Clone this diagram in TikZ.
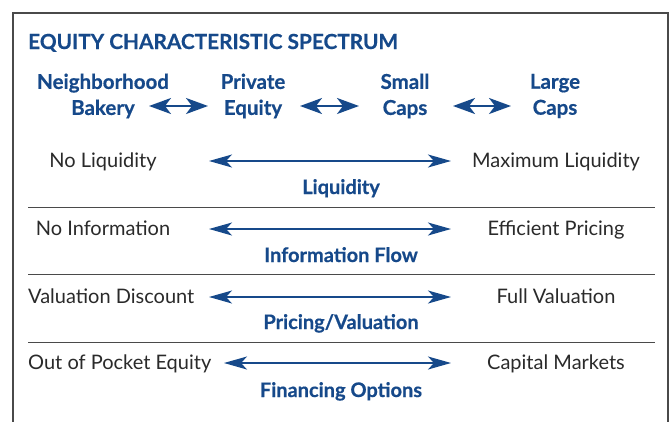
\documentclass[tikz,border=0pt]{standalone}
\usepackage{fontspec}
\setmainfont{Lato}
\newfontfamily\headfont[FakeBold=0.5]{Lato Bold}
\usetikzlibrary{arrows.meta}
\definecolor{navy}{HTML}{16498A}
\definecolor{bodygray}{HTML}{2A2A2A}
\definecolor{rulegray}{HTML}{4A4A4A}
\begin{document}
\begin{tikzpicture}[x=1pt,y=-1pt,
  heading/.style={font=\headfont\fontsize{20.8}{20.8}\selectfont,text=navy,anchor=base west,inner sep=0pt},
  category/.style={font=\headfont\fontsize{20.5}{26}\selectfont,text=navy,align=center,inner sep=0pt},
  endpoint/.style={font=\fontsize{20}{20}\selectfont,text=bodygray,anchor=base,inner sep=0pt},
  axislabel/.style={font=\headfont\fontsize{20}{20}\selectfont,text=navy,anchor=base,inner sep=0pt},
  shortarrow/.style={navy,line width=2pt,{Stealth[length=22pt,width=16pt,inset=6pt]}-{Stealth[length=22pt,width=16pt,inset=6pt]}},
  longarrow/.style={navy,line width=1.2pt,{Stealth[length=23pt,width=13pt,inset=6pt]}-{Stealth[length=23pt,width=13pt,inset=6pt]}},
  separator/.style={rulegray,line width=1pt},
  frame/.style={rulegray,line width=1.4pt}]
\useasboundingbox (0,0) rectangle (671,421);
\fill[white] (0,0) rectangle (671,421);

% open frame, running off the bottom edge
\coordinate (fbl) at (13,425);
\coordinate (ftl) at (13,13);
\coordinate (ftr) at (668,13);
\coordinate (fbr) at (668,425);
\draw[frame] (fbl) -- (ftl) -- (ftr) -- (fbr);

\node[heading] (title) at (28,49) {EQUITY CHARACTERISTIC SPECTRUM};

% spectrum of equity types
\node[category] (bakery) at (103,96) {Neighborhood\\Bakery};
\node[category] (private) at (253,96) {Private\\Equity};
\node[category] (small) at (405,96) {Small\\Caps};
\node[category] (large) at (555,96) {Large\\Caps};
\coordinate (a1l) at (149,106); \coordinate (a1r) at (208,106);
\coordinate (a2l) at (300,106); \coordinate (a2r) at (359,106);
\coordinate (a3l) at (453,106); \coordinate (a3r) at (511,106);
\draw[shortarrow] (a1l) -- (a1r);
\draw[shortarrow] (a2l) -- (a2r);
\draw[shortarrow] (a3l) -- (a3r);

% liquidity
\node[endpoint] (liqL) at (103,167) {No Liquidity};
\node[endpoint] (liqR) at (556,167) {Maximum Liquidity};
\coordinate (liqA) at (209,161); \coordinate (liqB) at (451,161);
\draw[longarrow] (liqA) -- (liqB);
\node[axislabel] (liq) at (341,194) {Liquidity};
\coordinate (s1l) at (28,207); \coordinate (s1r) at (655,207);
\draw[separator] (s1l) -- (s1r);

% information flow
\node[endpoint] (infL) at (103,235) {No Information};
\node[endpoint] (infR) at (556,235) {Efficient Pricing};
\coordinate (infA) at (209,229); \coordinate (infB) at (451,229);
\draw[longarrow] (infA) -- (infB);
\node[axislabel] (inf) at (341,262) {Information Flow};
\coordinate (s2l) at (28,274); \coordinate (s2r) at (655,274);
\draw[separator] (s2l) -- (s2r);

% pricing / valuation
\node[endpoint,anchor=base west] (valL) at (28,303) {Valuation Discount};
\node[endpoint] (valR) at (556,303) {Full Valuation};
\coordinate (valA) at (209,297); \coordinate (valB) at (451,297);
\draw[longarrow] (valA) -- (valB);
\node[axislabel] (val) at (341,329) {Pricing/Valuation};
\coordinate (s3l) at (28,342); \coordinate (s3r) at (655,342);
\draw[separator] (s3l) -- (s3r);

% financing options
\node[endpoint,anchor=base west] (finL) at (28,369) {Out of Pocket Equity};
\node[endpoint] (finR) at (556,369) {Capital Markets};
\coordinate (finA) at (224,363); \coordinate (finB) at (451,363);
\draw[longarrow] (finA) -- (finB);
\node[axislabel] (fin) at (341,397) {Financing Options};
\end{tikzpicture}
\end{document}
